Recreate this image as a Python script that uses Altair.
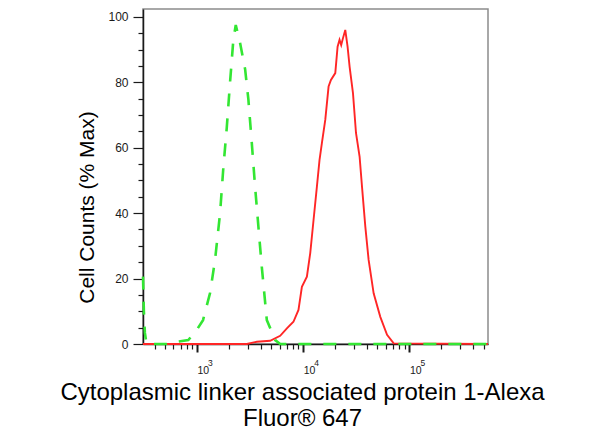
import pandas as pd
import altair as alt

# isotype control (green, dashed) - fluorescence vs % of max
control_x = [310, 316, 323, 335, 518, 662, 828, 993, 1139, 1327, 1479, 1649, 1771, 1905,
             2047, 2199, 2317, 2545, 2838, 3049, 3281, 3525, 3787, 4074, 4544, 5449, 6069, 550000]
control_y = [20.6, 10, 3.4, 0, 0, 0.7, 1.2, 4.3, 7.3, 15.6, 25.7, 40, 54, 66,
             80, 93, 97.5, 92, 84, 74.6, 61.4, 48, 35.8, 23.6, 7.3, 1.2, 0, 0]

# stained sample (red, solid)
sample_x = [310, 2944, 3656, 4887, 6069, 7020, 8094, 9028, 9721, 10835, 11650, 12517, 13460,
            14250, 14997, 16137, 17338, 18250, 20050, 21080, 21990, 22800, 23700, 24900, 26180,
            27350, 29430, 31420, 33970, 35790, 38460, 41320, 46070, 53210, 61630, 71150, 550000]
sample_y = [0, 0, 0.7, 1.0, 2.5, 4.8, 6.8, 10.4, 17.5, 20.6, 27.8, 37.9, 48.1,
            56.3, 61.4, 68.5, 78.7, 80.7, 82.8, 90.9, 93, 91.4, 93.5, 96, 90.9,
            84.8, 76.7, 64.5, 57.3, 48.1, 35.9, 25.7, 15.5, 8.3, 2.8, 0.2, 0]

decade_ticks = [1000, 10000, 100000]
decade_base = ["10", "10", "10"]
decade_powers = ["3", "4", "5"]
minor_x_ticks = [400, 500, 600, 700, 800, 900,
                 2000, 3000, 4000, 5000, 6000, 7000, 8000, 9000,
                 20000, 30000, 40000, 50000, 60000, 70000, 80000, 90000,
                 200000, 300000, 400000, 500000]
major_y_ticks = [0, 20, 40, 60, 80, 100]
minor_y_ticks = [5, 10, 15, 25, 30, 35, 45, 50, 55, 65, 70, 75, 85, 90, 95]

x_title = ["Cytoplasmic linker associated protein 1-Alexa", "Fluor\u00ae 647"]
y_title = "Cell Counts (% Max)"


def label_expr(labels):
    expr = "''"
    for v, s in zip(decade_ticks, labels):
        expr = f"datum.value == {v} ? '{s}' : " + expr
    return expr


sample = pd.DataFrame({"fluor": sample_x, "pct": sample_y})
control = pd.DataFrame({"fluor": control_x, "pct": control_y})

x_scale = alt.Scale(type="log", domain=[310, 550000])
y_scale = alt.Scale(domain=[0, 102.4])
ink = "#1a1a1a"

# major axes: decades on x, every 20 on y, with the titles
x_major = alt.Axis(orient="bottom", values=decade_ticks, labelExpr=label_expr(decade_base),
                   tickSize=8, tickWidth=2, tickColor=ink, domainColor=ink, domainWidth=1.5,
                   labelAlign="left", labelBaseline="alphabetic", labelPadding=21,
                   labelFontSize=10.5, labelColor=ink, grid=False,
                   title=x_title, titleFontSize=24, titleFontWeight="normal", titleColor="#000",
                   titleX=159, titleY=55, titleAlign="center", titleBaseline="alphabetic",
                   titleLineHeight=26)
y_major = alt.Axis(orient="left", values=major_y_ticks, tickSize=10, tickWidth=1.2,
                   tickColor=ink, domainColor=ink, domainWidth=1.5, labelPadding=5,
                   labelFontSize=12, labelColor=ink, grid=False,
                   title=y_title, titleFontSize=21, titleFontWeight="normal", titleColor="#000",
                   titleAngle=270, titleX=-56, titleY=198, titleAlign="center",
                   titleBaseline="middle")

# minor ticks
x_minor = alt.Axis(orient="bottom", values=minor_x_ticks, tickSize=5, tickWidth=1.2,
                   tickColor=ink, domain=False, labels=False, grid=False, title=None)
y_minor = alt.Axis(orient="left", values=minor_y_ticks, tickSize=5, tickWidth=1.2,
                   tickColor=ink, domain=False, labels=False, grid=False, title=None)

# superscript exponents for the decade labels
x_powers = alt.Axis(orient="bottom", values=decade_ticks, labelExpr=label_expr(decade_powers),
                    ticks=False, tickSize=0, domain=False, grid=False, labelAlign="left",
                    labelBaseline="alphabetic", labelPadding=21, labelOffset=10.5,
                    labelFontSize=8.5, labelColor=ink, title=None)

red = alt.Chart(sample).mark_line(color="#ff2626", strokeWidth=1.9).encode(
    x=alt.X("fluor:Q", scale=x_scale, axis=x_major),
    y=alt.Y("pct:Q", scale=y_scale, axis=y_major),
)

green = alt.Chart(control).mark_line(color="#33e633", strokeWidth=2.6, strokeDash=[13, 12]).encode(
    x=alt.X("fluor:Q", scale=x_scale, axis=x_minor),
    y=alt.Y("pct:Q", scale=y_scale, axis=y_minor),
)

powers = alt.Chart(sample).mark_line(opacity=0).encode(
    x=alt.X("fluor:Q", scale=x_scale, axis=x_powers),
    y=alt.Y("pct:Q", scale=y_scale, axis=None),
)

chart = alt.layer(red, green, powers).resolve_axis(
    x="independent", y="independent"
).properties(
    width=345,
    height=335,
    autosize=alt.AutoSizeParams(type="none"),
    padding={"left": 135, "top": 1, "right": 110, "bottom": 90},
).configure(
    font="Liberation Sans"
).configure_view(
    stroke="#8c8c8c", strokeWidth=1.5
)

chart.save("out.html", embed_options={"renderer": "svg", "actions": False})
